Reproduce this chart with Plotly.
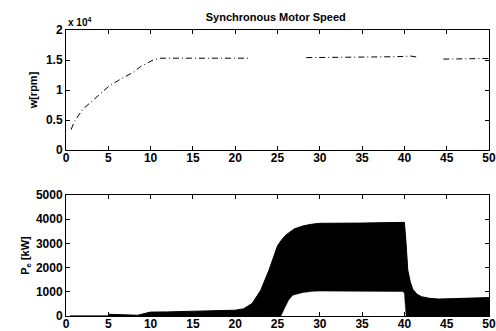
import plotly.graph_objects as go
from plotly.subplots import make_subplots

# --- Speed (top) ---
t_speed = [0.6, 1.0, 2.0, 3.2, 4.2, 5.2, 6.2, 7.0, 8.0, 8.8, 9.6, 10.3, 10.8, 11.2, 13.0, 16.0, 19.0, 21.6,
           None, 28.4, 30.5, 32.7, 33.1, 36.0, 39.0, 40.3, 40.8, 41.4,
           None, 44.6, 46.0, 47.8, 48.2, 50.0]
w_speed = [3400, 4800, 6800, 8300, 9500, 10800, 11600, 12200, 13000, 13900, 14500, 15000, 15200, 15300, 15300, 15300, 15300, 15300,
           None, 15400, 15400, 15400, 15500, 15500, 15550, 15700, 15650, 15500,
           None, 15150, 15150, 15200, 15250, 15250]

# --- Electrical power envelopes (bottom) ---
t_upper = [0.5, 5.0, 5.1, 7.5, 8.5, 9.5, 10.0, 12.0, 15.0, 18.0, 20.0, 21.0, 22.0, 23.0, 23.5, 24.0, 24.5, 25.0,
           25.5, 26.0, 27.0, 28.0, 29.0, 30.0, 35.0, 40.0, 40.2, 40.4, 40.7, 41.0, 41.5, 42.0, 43.0, 44.0, 46.0, 48.0, 50.0]
p_upper = [0, 0, 70, 60, 30, 120, 160, 170, 200, 220, 240, 300, 520, 1050, 1450, 1900, 2400, 2900,
           3150, 3350, 3600, 3720, 3790, 3830, 3840, 3870, 3000, 1900, 1400, 1100, 900, 800, 730, 700, 720, 740, 760]
t_lower = [0.5, 25.4, 25.8, 26.3, 26.8, 27.5, 28.0, 29.2, 30.0, 35.0, 39.8, 40.0, 40.2, 50.0]
p_lower = [0, 0, 300, 650, 860, 940, 970, 1020, 1030, 1020, 1010, 950, 0, 0]

x_ticks = [0, 5, 10, 15, 20, 25, 30, 35, 40, 45, 50]
w_tickvals = [0, 5000, 10000, 15000, 20000]
w_ticktext = ["0", "0.5", "1", "1.5", "2"]
p_tickvals = [0, 1000, 2000, 3000, 4000, 5000]

FONT = "Liberation Sans, Arial, sans-serif"
TICKFONT = dict(family=FONT, size=12, color="black", weight="bold")
LABELFONT = dict(family=FONT, size=11, color="black", weight="bold")

fig = make_subplots(rows=2, cols=1, vertical_spacing=0.1)

fig.add_trace(go.Scatter(x=t_speed, y=w_speed, mode="lines",
                         line=dict(color="black", width=1, dash="6px,3px,1px,3px"),
                         connectgaps=False, showlegend=False), row=1, col=1)

fig.add_trace(go.Scatter(x=t_lower, y=p_lower, mode="lines",
                         line=dict(color="black", width=0.5), showlegend=False), row=2, col=1)
fig.add_trace(go.Scatter(x=t_upper, y=p_upper, mode="lines", fill="tonexty",
                         fillcolor="black", line=dict(color="black", width=1),
                         showlegend=False), row=2, col=1)

axis_common = dict(showline=True, linecolor="black", linewidth=1, mirror="ticks",
                   ticks="inside", ticklen=4, tickcolor="black", showgrid=False,
                   zeroline=False, automargin=False, tickfont=TICKFONT)

fig.update_xaxes(range=[0, 50], tickvals=x_ticks, ticklabelstandoff=-3, **axis_common)
fig.update_yaxes(row=1, col=1, range=[0, 20000], tickvals=w_tickvals, ticktext=w_ticktext,
                 title=dict(text="w[rpm]", font=LABELFONT, standoff=6),
                 **axis_common)
fig.update_yaxes(row=2, col=1, range=[0, 5000], tickvals=p_tickvals,
                 title=dict(text="P<sub>e</sub> [kW]", font=LABELFONT, standoff=4),
                 **axis_common)

fig.update_layout(
    width=496, height=331,
    margin=dict(l=66, r=7, t=30, b=15, autoexpand=False),
    paper_bgcolor="white", plot_bgcolor="white",
    xaxis=dict(domain=[0, 1]),
    yaxis=dict(domain=[0.5804, 1.0]),
    yaxis2=dict(domain=[0.0, 0.4231]),
    title=dict(text="Synchronous Motor Speed", x=0.556, xanchor="center", y=0.948, yanchor="middle",
               font=dict(family=FONT, size=11, color="black", weight="bold")),
    annotations=[dict(text="x 10<sup>4</sup>", xref="paper", yref="paper", x=0.0, y=1.0,
                      xanchor="left", yanchor="bottom", showarrow=False,
                      font=dict(family=FONT, size=10, color="black", weight="bold"))],
)

fig.write_html("out.html", config={"displayModeBar": False},
               post_script="document.body.style.margin='0';")
